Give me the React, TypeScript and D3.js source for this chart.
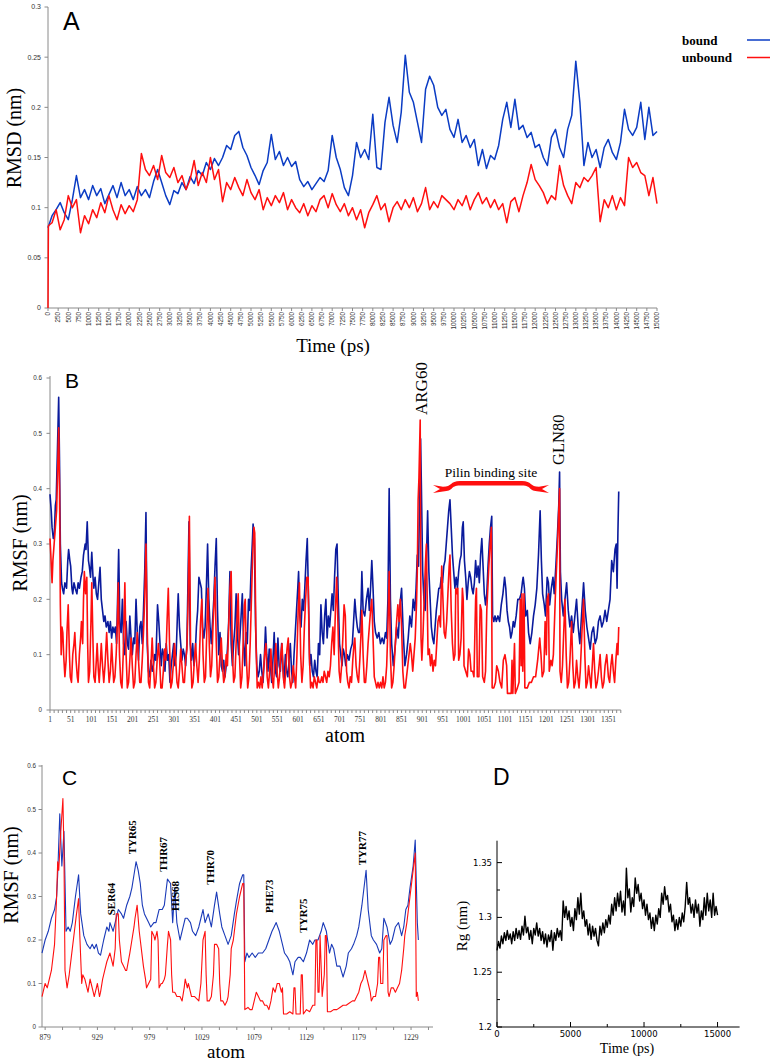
import React from 'react';
import * as d3 from 'd3';

// ---------- Panel A: RMSD vs time (ps) ----------
const rmsdTime = d3.range(0, 15001, 100);
const rmsdBound = [
  0.080,0.092,0.098,0.105,0.095,0.088,0.108,0.132,0.110,0.118,
  0.108,0.122,0.112,0.119,0.104,0.113,0.122,0.110,0.125,0.112,
  0.118,0.108,0.121,0.112,0.118,0.110,0.126,0.138,0.125,0.112,
  0.103,0.117,0.114,0.125,0.118,0.131,0.124,0.137,0.132,0.145,
  0.138,0.149,0.142,0.150,0.162,0.158,0.172,0.176,0.160,0.152,
  0.140,0.132,0.123,0.137,0.145,0.173,0.148,0.156,0.142,0.150,
  0.141,0.146,0.128,0.121,0.126,0.118,0.124,0.130,0.126,0.137,
  0.172,0.150,0.138,0.120,0.112,0.132,0.165,0.150,0.158,0.148,
  0.193,0.140,0.138,0.185,0.210,0.182,0.165,0.195,0.252,0.215,
  0.205,0.185,0.165,0.218,0.231,0.222,0.200,0.192,0.198,0.178,
  0.170,0.188,0.165,0.172,0.160,0.168,0.142,0.158,0.139,0.152,
  0.148,0.162,0.188,0.205,0.180,0.208,0.178,0.182,0.170,0.175,
  0.160,0.163,0.150,0.142,0.170,0.178,0.160,0.150,0.178,0.192,
  0.246,0.205,0.142,0.165,0.150,0.158,0.140,0.160,0.168,0.155,
  0.148,0.165,0.198,0.178,0.172,0.180,0.205,0.168,0.200,0.172,
  0.176,
];
// unbound starts from 0 at t = 0 and jumps within the first frame
const rmsdUnboundTime = [0, 10].concat(d3.range(100, 15001, 100));
const rmsdUnbound = [
  0.000,0.082,
  0.085,0.098,0.078,0.088,0.112,0.100,0.108,0.075,0.092,
  0.084,0.098,0.090,0.105,0.095,0.112,0.098,0.088,0.103,0.094,
  0.102,0.096,0.108,0.154,0.138,0.132,0.142,0.128,0.152,0.135,
  0.130,0.140,0.125,0.132,0.118,0.128,0.147,0.122,0.135,0.125,
  0.150,0.128,0.138,0.106,0.125,0.118,0.130,0.120,0.112,0.128,
  0.115,0.108,0.118,0.098,0.110,0.102,0.112,0.105,0.115,0.098,
  0.108,0.100,0.095,0.104,0.092,0.102,0.096,0.108,0.112,0.100,
  0.114,0.103,0.096,0.104,0.092,0.100,0.088,0.098,0.080,0.095,
  0.103,0.112,0.098,0.104,0.086,0.100,0.106,0.098,0.108,0.100,
  0.110,0.096,0.104,0.120,0.098,0.106,0.100,0.112,0.108,0.104,
  0.098,0.108,0.102,0.112,0.098,0.108,0.115,0.104,0.110,0.100,
  0.108,0.098,0.104,0.085,0.106,0.110,0.096,0.112,0.125,0.143,
  0.128,0.122,0.115,0.104,0.112,0.108,0.142,0.122,0.112,0.104,
  0.125,0.120,0.130,0.126,0.132,0.140,0.086,0.108,0.100,0.112,
  0.098,0.110,0.102,0.150,0.140,0.145,0.135,0.132,0.112,0.130,
  0.104,
];
const rmsdYTicks = [0, 0.05, 0.1, 0.15, 0.2, 0.25, 0.3];
const rmsdXTicks = d3.range(0, 15001, 250);

// ---------- Panel B: RMSF per atom ----------
const rmsfBound: [number, number][] = [
  [1,0.39],[4,0.36],[6,0.33],[9,0.31],[11,0.31],[14,0.37],[16,0.38],[19,0.47],[22,0.565],[24,0.45],
  [26,0.30],[29,0.23],[31,0.22],[34,0.21],[37,0.23],[41,0.22],[44,0.27],[46,0.29],[49,0.27],[51,0.26],
  [54,0.22],[56,0.21],[59,0.23],[62,0.22],[66,0.21],[69,0.23],[72,0.22],[76,0.24],[79,0.25],[82,0.28],
  [86,0.30],[88,0.29],[91,0.34],[94,0.27],[96,0.26],[99,0.24],[102,0.285],[105,0.24],[107,0.22],[110,0.24],
  [113,0.21],[116,0.20],[119,0.23],[122,0.258],[125,0.20],[128,0.18],[131,0.16],[134,0.17],[137,0.15],[141,0.16],
  [144,0.14],[147,0.16],[150,0.13],[153,0.15],[156,0.14],[159,0.15],[162,0.12],[165,0.22],[167,0.29],[170,0.15],
  [173,0.14],[176,0.20],[179,0.12],[182,0.10],[185,0.16],[188,0.12],[191,0.11],[194,0.17],[197,0.13],[200,0.10],
  [203,0.13],[206,0.12],[209,0.20],[212,0.14],[215,0.09],[218,0.15],[221,0.16],[224,0.12],[227,0.18],[230,0.25],
  [233,0.357],[236,0.12],[239,0.07],[242,0.06],[245,0.09],[248,0.07],[251,0.08],[254,0.10],[257,0.09],[261,0.19],
  [264,0.16],[267,0.12],[270,0.08],[273,0.11],[276,0.10],[279,0.07],[282,0.12],[285,0.09],[288,0.10],[291,0.05],
  [294,0.08],[297,0.10],[300,0.12],[303,0.08],[306,0.10],[309,0.17],[311,0.21],[314,0.15],[317,0.12],[320,0.09],
  [323,0.11],[326,0.10],[329,0.08],[332,0.12],[335,0.25],[337,0.34],[340,0.12],[343,0.09],[346,0.12],[349,0.08],
  [352,0.10],[355,0.15],[358,0.18],[361,0.24],[364,0.23],[367,0.22],[370,0.15],[373,0.13],[376,0.15],[379,0.22],
  [382,0.30],[385,0.20],[388,0.15],[391,0.12],[394,0.16],[397,0.20],[400,0.26],[403,0.31],[406,0.18],[409,0.10],
  [412,0.14],[415,0.08],[418,0.07],[421,0.09],[424,0.06],[427,0.08],[430,0.11],[433,0.16],[436,0.25],[439,0.12],
  [442,0.08],[445,0.12],[448,0.15],[451,0.21],[454,0.14],[457,0.10],[460,0.13],[463,0.17],[466,0.21],[469,0.12],
  [472,0.08],[475,0.14],[478,0.12],[481,0.20],[484,0.18],[487,0.25],[490,0.30],[492,0.336],[495,0.31],[498,0.15],
  [501,0.08],[504,0.06],[507,0.07],[510,0.10],[513,0.07],[516,0.05],[519,0.09],[522,0.15],[525,0.10],[528,0.07],
  [531,0.11],[534,0.08],[537,0.05],[540,0.09],[543,0.14],[546,0.07],[549,0.06],[552,0.13],[555,0.08],[558,0.07],
  [561,0.12],[564,0.08],[567,0.05],[570,0.10],[573,0.07],[576,0.06],[579,0.09],[582,0.12],[585,0.07],[588,0.05],
  [591,0.10],[594,0.14],[597,0.18],[600,0.22],[602,0.25],[605,0.17],[608,0.15],[611,0.20],[614,0.18],[617,0.22],
  [620,0.27],[623,0.31],[626,0.20],[629,0.08],[632,0.10],[635,0.07],[638,0.06],[641,0.09],[644,0.07],[647,0.06],
  [650,0.12],[653,0.10],[656,0.19],[659,0.14],[662,0.12],[665,0.17],[668,0.20],[671,0.13],[674,0.17],[677,0.15],
  [680,0.18],[683,0.21],[686,0.18],[689,0.24],[692,0.29],[695,0.30],[698,0.20],[701,0.12],[704,0.10],[707,0.08],
  [710,0.11],[713,0.10],[716,0.08],[720,0.10],[724,0.09],[728,0.11],[732,0.12],[735,0.16],[738,0.20],[741,0.17],
  [744,0.15],[747,0.14],[750,0.14],[753,0.19],[755,0.25],[758,0.18],[762,0.17],[766,0.20],[770,0.22],[773,0.18],
  [776,0.22],[779,0.27],[782,0.22],[785,0.16],[788,0.14],[792,0.13],[796,0.14],[800,0.12],[804,0.13],[808,0.12],
  [812,0.14],[815,0.13],[818,0.20],[821,0.40],[824,0.20],[827,0.12],[831,0.08],[835,0.11],[839,0.15],[843,0.13],
  [847,0.19],[851,0.22],[855,0.14],[859,0.08],[863,0.10],[867,0.13],[871,0.17],[875,0.15],[879,0.20],[883,0.18],
  [886,0.22],[889,0.28],[892,0.26],[895,0.40],[897,0.49],[899,0.40],[902,0.25],[905,0.20],[908,0.18],[911,0.27],
  [914,0.36],[917,0.25],[920,0.20],[923,0.15],[926,0.13],[929,0.12],[932,0.15],[935,0.18],[938,0.20],[941,0.22],
  [944,0.22],[947,0.24],[950,0.23],[953,0.26],[956,0.27],[959,0.30],[962,0.33],[965,0.36],[968,0.38],[971,0.33],
  [974,0.28],[977,0.25],[980,0.22],[983,0.24],[986,0.22],[989,0.25],[992,0.27],[995,0.28],[998,0.33],[1000,0.34],
  [1003,0.27],[1006,0.24],[1009,0.20],[1012,0.23],[1015,0.25],[1018,0.24],[1021,0.22],[1024,0.21],[1027,0.23],[1030,0.27],
  [1033,0.24],[1036,0.26],[1039,0.23],[1042,0.28],[1045,0.31],[1048,0.26],[1051,0.21],[1054,0.19],[1057,0.21],[1060,0.26],
  [1063,0.30],[1066,0.33],[1069,0.35],[1071,0.17],[1074,0.16],[1077,0.17],[1080,0.16],[1084,0.17],[1088,0.16],[1092,0.19],
  [1096,0.21],[1100,0.24],[1103,0.22],[1106,0.18],[1109,0.16],[1112,0.15],[1115,0.13],[1118,0.14],[1121,0.16],[1124,0.15],
  [1128,0.17],[1132,0.20],[1136,0.20],[1140,0.21],[1143,0.23],[1145,0.24],[1148,0.22],[1151,0.17],[1155,0.18],[1158,0.14],
  [1162,0.12],[1166,0.14],[1170,0.17],[1174,0.19],[1178,0.22],[1182,0.28],[1186,0.36],[1189,0.27],[1192,0.21],[1196,0.19],
  [1199,0.17],[1203,0.24],[1206,0.23],[1209,0.19],[1213,0.22],[1217,0.24],[1220,0.21],[1224,0.26],[1228,0.32],[1231,0.37],
  [1233,0.43],[1235,0.25],[1238,0.20],[1242,0.17],[1246,0.20],[1250,0.23],[1254,0.18],[1258,0.15],[1262,0.17],[1266,0.14],
  [1270,0.17],[1274,0.20],[1278,0.15],[1282,0.12],[1286,0.17],[1291,0.23],[1295,0.18],[1299,0.15],[1303,0.13],[1307,0.11],
  [1311,0.14],[1315,0.15],[1319,0.12],[1323,0.13],[1327,0.16],[1331,0.17],[1335,0.15],[1339,0.16],[1343,0.18],[1347,0.16],
  [1351,0.18],[1355,0.20],[1359,0.27],[1363,0.25],[1367,0.29],[1370,0.30],[1372,0.22],[1374,0.32],[1376,0.395],
];
const rmsfUnbound: [number, number][] = [
  [1,0.31],[3,0.28],[6,0.23],[8,0.27],[11,0.30],[14,0.33],[17,0.36],[20,0.45],[22,0.51],[24,0.40],
  [26,0.19],[28,0.10],[30,0.15],[32,0.14],[34,0.10],[37,0.06],[40,0.09],[42,0.14],[45,0.19],[48,0.10],
  [50,0.06],[53,0.05],[56,0.10],[59,0.12],[61,0.14],[64,0.09],[67,0.06],[69,0.05],[72,0.10],[75,0.13],
  [77,0.16],[80,0.12],[82,0.20],[84,0.25],[87,0.21],[90,0.24],[92,0.12],[94,0.05],[97,0.07],[100,0.16],
  [102,0.23],[105,0.12],[107,0.06],[110,0.05],[113,0.09],[115,0.12],[118,0.07],[120,0.05],[123,0.09],[125,0.12],
  [128,0.08],[131,0.05],[134,0.08],[136,0.11],[138,0.14],[141,0.09],[144,0.05],[147,0.07],[150,0.12],[152,0.09],
  [155,0.05],[158,0.06],[161,0.10],[164,0.16],[166,0.23],[169,0.10],[172,0.05],[175,0.04],[178,0.10],[182,0.23],
  [185,0.10],[188,0.04],[191,0.05],[194,0.09],[197,0.13],[200,0.08],[203,0.04],[206,0.05],[209,0.10],[212,0.14],
  [215,0.09],[218,0.05],[221,0.05],[224,0.09],[227,0.14],[230,0.20],[233,0.30],[236,0.15],[239,0.05],[242,0.04],
  [245,0.08],[248,0.13],[251,0.08],[254,0.04],[257,0.05],[260,0.09],[263,0.12],[266,0.09],[269,0.04],[272,0.04],
  [275,0.07],[278,0.11],[281,0.09],[284,0.16],[287,0.22],[290,0.12],[293,0.04],[296,0.05],[299,0.08],[302,0.12],
  [305,0.09],[308,0.05],[311,0.04],[314,0.07],[317,0.11],[320,0.08],[323,0.05],[326,0.05],[329,0.09],[332,0.11],
  [335,0.20],[338,0.35],[341,0.10],[344,0.04],[347,0.05],[350,0.09],[353,0.12],[356,0.08],[359,0.05],[362,0.09],
  [365,0.16],[368,0.20],[371,0.10],[374,0.05],[377,0.06],[380,0.14],[383,0.22],[386,0.12],[389,0.06],[392,0.08],
  [395,0.15],[398,0.20],[400,0.24],[403,0.12],[406,0.05],[409,0.06],[412,0.10],[415,0.13],[418,0.08],[421,0.05],
  [424,0.06],[427,0.10],[430,0.08],[433,0.15],[436,0.22],[439,0.25],[442,0.10],[445,0.05],[448,0.06],[451,0.12],
  [454,0.18],[456,0.21],[459,0.10],[462,0.04],[465,0.06],[468,0.12],[471,0.19],[473,0.20],[476,0.09],[479,0.04],
  [482,0.06],[485,0.12],[488,0.20],[491,0.28],[494,0.33],[496,0.32],[499,0.12],[502,0.04],[505,0.05],[508,0.04],
  [511,0.06],[514,0.04],[517,0.07],[520,0.10],[523,0.12],[526,0.06],[529,0.04],[532,0.07],[535,0.11],[538,0.06],
  [541,0.04],[544,0.08],[547,0.12],[550,0.07],[553,0.04],[556,0.06],[559,0.10],[562,0.12],[565,0.06],[568,0.04],
  [571,0.07],[574,0.11],[577,0.13],[580,0.06],[583,0.04],[586,0.05],[589,0.08],[592,0.06],[595,0.04],[598,0.10],
  [601,0.18],[604,0.23],[607,0.10],[610,0.05],[613,0.08],[616,0.15],[619,0.20],[622,0.24],[625,0.24],[628,0.10],
  [631,0.04],[634,0.05],[637,0.04],[640,0.06],[643,0.05],[646,0.04],[649,0.06],[652,0.05],[655,0.05],[658,0.06],
  [661,0.05],[664,0.07],[667,0.06],[670,0.05],[673,0.07],[676,0.06],[679,0.08],[682,0.12],[685,0.15],[688,0.10],
  [691,0.18],[694,0.24],[697,0.16],[700,0.07],[703,0.05],[706,0.08],[709,0.13],[712,0.19],[715,0.17],[718,0.07],
  [721,0.05],[724,0.04],[727,0.06],[730,0.05],[733,0.09],[736,0.12],[738,0.13],[741,0.08],[744,0.06],[747,0.05],
  [750,0.09],[753,0.14],[755,0.18],[758,0.10],[761,0.05],[764,0.05],[767,0.08],[770,0.12],[773,0.15],[776,0.18],
  [779,0.20],[782,0.13],[785,0.06],[788,0.05],[791,0.04],[794,0.05],[797,0.04],[800,0.05],[803,0.04],[806,0.06],
  [809,0.04],[812,0.05],[815,0.08],[818,0.15],[821,0.25],[824,0.10],[827,0.04],[830,0.05],[833,0.08],[836,0.12],
  [839,0.16],[842,0.19],[845,0.16],[848,0.20],[851,0.15],[854,0.07],[857,0.04],[860,0.04],[863,0.06],[866,0.08],
  [869,0.10],[872,0.12],[875,0.10],[878,0.07],[881,0.10],[884,0.13],[887,0.19],[889,0.25],[891,0.38],[893,0.42],
  [896,0.524],[898,0.13],[900,0.09],[903,0.14],[906,0.21],[909,0.27],[911,0.30],[913,0.20],[915,0.10],[918,0.11],
  [921,0.08],[924,0.10],[927,0.07],[930,0.09],[933,0.08],[936,0.12],[939,0.16],[942,0.17],[945,0.15],[948,0.26],
  [951,0.20],[954,0.14],[957,0.13],[960,0.16],[963,0.21],[966,0.26],[968,0.28],[971,0.18],[974,0.12],[977,0.09],
  [980,0.10],[982,0.22],[985,0.21],[987,0.22],[989,0.09],[992,0.10],[995,0.13],[998,0.22],[1000,0.20],[1002,0.08],
  [1006,0.07],[1010,0.06],[1013,0.11],[1016,0.10],[1019,0.07],[1023,0.07],[1026,0.06],[1030,0.20],[1032,0.22],[1034,0.06],
  [1038,0.06],[1041,0.19],[1044,0.18],[1047,0.06],[1051,0.05],[1054,0.07],[1057,0.18],[1062,0.26],[1065,0.30],[1068,0.33],
  [1070,0.04],[1074,0.04],[1078,0.05],[1081,0.08],[1085,0.07],[1089,0.05],[1093,0.04],[1097,0.09],[1101,0.10],[1105,0.08],
  [1107,0.03],[1112,0.03],[1116,0.03],[1118,0.09],[1120,0.03],[1124,0.12],[1126,0.03],[1131,0.04],[1135,0.05],[1138,0.20],
  [1140,0.08],[1142,0.21],[1144,0.07],[1147,0.21],[1149,0.04],[1155,0.04],[1160,0.05],[1165,0.05],[1170,0.06],[1175,0.06],
  [1180,0.09],[1185,0.13],[1188,0.10],[1191,0.06],[1195,0.07],[1198,0.16],[1201,0.10],[1203,0.20],[1206,0.21],[1208,0.07],
  [1212,0.09],[1215,0.08],[1218,0.10],[1223,0.21],[1228,0.30],[1233,0.40],[1234,0.07],[1237,0.05],[1240,0.08],[1243,0.14],
  [1246,0.20],[1249,0.10],[1252,0.04],[1255,0.05],[1258,0.09],[1262,0.16],[1265,0.08],[1268,0.04],[1271,0.05],[1274,0.09],
  [1277,0.06],[1280,0.04],[1283,0.07],[1287,0.14],[1291,0.20],[1294,0.10],[1297,0.04],[1300,0.05],[1303,0.08],[1306,0.06],
  [1309,0.04],[1312,0.08],[1315,0.12],[1318,0.07],[1321,0.04],[1324,0.05],[1327,0.07],[1331,0.10],[1334,0.06],[1337,0.04],
  [1340,0.05],[1343,0.08],[1347,0.10],[1351,0.06],[1354,0.05],[1357,0.08],[1360,0.10],[1363,0.07],[1366,0.05],[1369,0.09],
  [1372,0.12],[1374,0.10],[1376,0.15],
];
const rmsfYTicks = [0, 0.1, 0.2, 0.3, 0.4, 0.5, 0.6];
const rmsfXLabels = d3.range(1, 1352, 50);
const rmsfXMinor = d3.range(1, 1382, 10);

// ---------- Panel C: RMSF zoom (pilin binding region) ----------
const zoomBound: [number, number][] = [
  [876,0.17],[879,0.20],[882,0.22],[885,0.25],[888,0.27],[890,0.30],[891,0.35],[893,0.49],[895,0.37],[897,0.45],
  [899,0.22],[901,0.23],[903,0.22],[905,0.24],[908,0.30],[911,0.35],[913,0.26],[916,0.21],[919,0.19],[922,0.18],
  [924,0.19],[926,0.18],[928,0.19],[930,0.17],[932,0.165],[935,0.20],[938,0.23],[940,0.22],[941,0.24],[944,0.22],
  [947,0.25],[949,0.27],[952,0.26],[954,0.25],[957,0.28],[960,0.30],[962,0.32],[964,0.35],[966,0.38],[968,0.36],
  [970,0.33],[972,0.28],[974,0.26],[976,0.25],[978,0.24],[980,0.23],[983,0.24],[985,0.24],[988,0.27],[991,0.27],
  [993,0.28],[995,0.32],[996,0.34],[999,0.33],[1001,0.24],[1003,0.32],[1005,0.24],[1008,0.20],[1011,0.23],[1013,0.25],
  [1015,0.25],[1018,0.24],[1020,0.22],[1023,0.21],[1026,0.23],[1028,0.25],[1030,0.27],[1032,0.24],[1035,0.26],[1038,0.23],
  [1041,0.28],[1043,0.31],[1046,0.26],[1048,0.23],[1051,0.21],[1054,0.19],[1057,0.21],[1060,0.26],[1062,0.29],[1065,0.33],
  [1068,0.35],[1069,0.35],[1070,0.15],[1072,0.17],[1074,0.16],[1077,0.17],[1080,0.16],[1083,0.17],[1087,0.17],[1090,0.18],
  [1093,0.20],[1096,0.22],[1098,0.23],[1100,0.24],[1103,0.22],[1106,0.19],[1108,0.17],[1111,0.16],[1113,0.15],[1116,0.12],
  [1118,0.15],[1121,0.16],[1123,0.16],[1126,0.15],[1129,0.17],[1132,0.20],[1135,0.19],[1137,0.20],[1140,0.20],[1143,0.22],
  [1145,0.24],[1148,0.22],[1151,0.17],[1153,0.19],[1155,0.18],[1158,0.14],[1161,0.14],[1164,0.115],[1167,0.14],[1169,0.17],
  [1172,0.18],[1174,0.19],[1177,0.21],[1179,0.23],[1182,0.28],[1184,0.32],[1186,0.36],[1188,0.27],[1191,0.21],[1193,0.20],
  [1196,0.19],[1199,0.17],[1201,0.18],[1203,0.25],[1206,0.23],[1209,0.19],[1211,0.20],[1214,0.23],[1217,0.24],[1220,0.21],
  [1222,0.23],[1224,0.27],[1226,0.28],[1228,0.32],[1231,0.37],[1233,0.43],[1235,0.24],[1236,0.20],
];
const zoomUnbound: [number, number][] = [
  [876,0.07],[879,0.10],[881,0.09],[882,0.10],[885,0.13],[888,0.19],[890,0.30],[891,0.38],[892,0.36],[894,0.45],
  [896,0.525],[897,0.40],[898,0.13],[900,0.09],[902,0.12],[904,0.16],[907,0.22],[909,0.26],[911,0.295],[912,0.22],
  [914,0.10],[915,0.12],[917,0.11],[919,0.09],[920,0.08],[922,0.11],[923,0.10],[925,0.08],[926,0.07],[928,0.09],
  [929,0.10],[931,0.07],[932,0.08],[934,0.11],[936,0.13],[938,0.15],[941,0.17],[943,0.15],[944,0.14],[946,0.18],
  [947,0.26],[949,0.26],[950,0.20],[952,0.15],[954,0.14],[956,0.13],[957,0.13],[960,0.17],[962,0.20],[964,0.23],
  [965,0.25],[967,0.28],[969,0.22],[970,0.20],[972,0.16],[973,0.14],[975,0.11],[976,0.09],[978,0.10],[980,0.11],
  [981,0.22],[983,0.21],[984,0.20],[986,0.22],[987,0.20],[988,0.09],[990,0.10],[991,0.10],[993,0.11],[994,0.12],
  [996,0.19],[997,0.22],[999,0.20],[1000,0.12],[1001,0.08],[1003,0.08],[1005,0.07],[1008,0.07],[1010,0.06],[1012,0.09],
  [1013,0.11],[1015,0.09],[1016,0.10],[1018,0.08],[1019,0.07],[1022,0.07],[1026,0.06],[1028,0.10],[1030,0.20],[1032,0.22],
  [1033,0.12],[1034,0.06],[1036,0.06],[1038,0.07],[1040,0.12],[1041,0.19],[1043,0.19],[1045,0.18],[1046,0.10],[1047,0.06],
  [1049,0.06],[1051,0.05],[1053,0.06],[1054,0.07],[1056,0.12],[1057,0.18],[1059,0.20],[1062,0.26],[1065,0.30],[1068,0.33],
  [1069,0.33],[1070,0.04],[1073,0.045],[1075,0.04],[1077,0.04],[1079,0.06],[1081,0.08],[1083,0.07],[1085,0.06],[1087,0.06],
  [1089,0.05],[1091,0.05],[1093,0.04],[1095,0.06],[1097,0.09],[1099,0.08],[1101,0.10],[1103,0.10],[1105,0.08],[1106,0.09],
  [1107,0.03],[1110,0.03],[1113,0.035],[1116,0.03],[1117,0.09],[1118,0.09],[1119,0.03],[1121,0.03],[1123,0.03],[1124,0.12],
  [1125,0.12],[1126,0.03],[1129,0.04],[1132,0.035],[1135,0.05],[1137,0.05],[1138,0.20],[1139,0.20],[1140,0.08],[1141,0.08],
  [1142,0.21],[1143,0.14],[1144,0.07],[1146,0.12],[1147,0.21],[1148,0.21],[1149,0.035],[1152,0.035],[1155,0.04],[1158,0.04],
  [1161,0.045],[1164,0.05],[1167,0.05],[1170,0.055],[1173,0.06],[1175,0.06],[1177,0.07],[1179,0.08],[1181,0.10],[1183,0.11],
  [1185,0.13],[1187,0.11],[1188,0.10],[1190,0.08],[1191,0.06],[1193,0.07],[1195,0.07],[1197,0.10],[1198,0.16],[1199,0.16],
  [1200,0.10],[1202,0.10],[1203,0.20],[1205,0.21],[1206,0.21],[1207,0.08],[1208,0.07],[1210,0.09],[1212,0.09],[1214,0.08],
  [1216,0.09],[1218,0.10],[1220,0.13],[1222,0.18],[1223,0.21],[1225,0.24],[1228,0.30],[1231,0.36],[1233,0.40],[1234,0.07],
  [1235,0.08],[1236,0.06],
];
const zoomXLabels = [879, 929, 979, 1029, 1079, 1129, 1179, 1229];
const zoomXMinor = d3.range(879, 1250, 50 / 3);
const zoomResidues = [
  { name: 'SER64', atom: 942, top: 0.25 },
  { name: 'TYR65', atom: 962, top: 0.39 },
  { name: 'THR67', atom: 992, top: 0.35 },
  { name: 'HIS68', atom: 1003, top: 0.26 },
  { name: 'THR70', atom: 1037, top: 0.32 },
  { name: 'PHE73', atom: 1093, top: 0.255 },
  { name: 'TYR75', atom: 1126, top: 0.21 },
  { name: 'TYR77', atom: 1182, top: 0.365 },
];

// ---------- Panel D: radius of gyration ----------
const rgTime = d3.range(0, 15001, 100);
const rgValues = [
  1.270,1.278,1.272,1.283,1.276,1.286,1.279,1.288,1.280,1.285,
  1.276,1.287,1.279,1.290,1.281,1.288,1.280,1.292,1.284,1.301,
  1.286,1.291,1.280,1.288,1.276,1.290,1.284,1.295,1.283,1.290,
  1.279,1.287,1.276,1.285,1.273,1.284,1.278,1.288,1.270,1.286,
  1.279,1.290,1.282,1.288,1.279,1.315,1.300,1.310,1.298,1.306,
  1.292,1.300,1.288,1.308,1.298,1.318,1.303,1.322,1.299,1.306,
  1.292,1.298,1.284,1.294,1.280,1.292,1.283,1.290,1.279,1.274,
  1.292,1.284,1.295,1.286,1.298,1.291,1.302,1.294,1.312,1.302,
  1.318,1.306,1.322,1.310,1.324,1.305,1.315,1.302,1.345,1.318,
  1.326,1.305,1.318,1.310,1.336,1.322,1.330,1.315,1.322,1.308,
  1.316,1.302,1.312,1.298,1.304,1.290,1.300,1.288,1.302,1.294,
  1.308,1.300,1.322,1.312,1.328,1.316,1.320,1.305,1.312,1.296,
  1.302,1.288,1.298,1.289,1.300,1.292,1.304,1.296,1.310,1.332,
  1.312,1.318,1.304,1.312,1.300,1.316,1.304,1.312,1.292,1.306,
  1.298,1.318,1.302,1.322,1.306,1.316,1.300,1.322,1.302,1.310,
  1.302,
];
const rgYMajor = [1.2, 1.25, 1.3, 1.35];
const rgYMinor = [1.225, 1.275, 1.325];
const rgXMajor = [0, 5000, 10000, 15000];
const rgXMinor = [2500, 7500, 12500];

const SERIF = "'Liberation Serif', 'Times New Roman', serif";
const SANS = "'Liberation Sans', Arial, sans-serif";
const BLUE_A = '#0b3cc4';
const BLUE_B = '#0a1a9c';
const BLUE_C = '#1a3ab8';
const RED = '#ff0f0f';
const AXIS = '#8a8a8a';

function fmt(v: number) {
  return String(+v.toFixed(3));
}

export default function App() {
  const xA = d3.scaleLinear().domain([0, 15000]).range([48, 657]);
  const yA = d3.scaleLinear().domain([0, 0.3]).range([308, 7]);
  const xB = d3.scaleLinear().domain([1, 1381]).range([50, 620.8]);
  const yB = d3.scaleLinear().domain([0, 0.6]).range([710, 378]);
  const xC = d3.scaleLinear().domain([876, 1250]).range([42, 433]);
  const yC = d3.scaleLinear().domain([0, 0.6]).range([1027, 766]);
  const xD = d3.scaleLinear().domain([0, 16500]).range([497, 739.6]);
  const yD = d3.scaleLinear().domain([1.2, 1.37]).range([1027, 840.7]);

  const lineA = (times: number[], vals: number[]) =>
    d3.line<number>().x((_, i) => xA(times[i])).y((d) => yA(d))(vals) || '';
  const lineB = d3.line<[number, number]>().x((d) => xB(d[0])).y((d) => yB(d[1]));
  const lineC = d3.line<[number, number]>().x((d) => xC(d[0])).y((d) => yC(d[1]));
  const lineD = d3.line<number>().x((_, i) => xD(rgTime[i])).y((d) => yD(d));

  return (
    <svg width={770} height={1062} style={{ position: 'absolute', left: 0, top: 0, background: '#fff' }}
      xmlns="http://www.w3.org/2000/svg">
      <rect x={0} y={0} width={770} height={1062} fill="#fff" />

      {/* ================= Panel A ================= */}
      <g>
        <line x1={48} x2={48} y1={yA(0.3)} y2={yA(0)} stroke={AXIS} strokeWidth={1} />
        <line x1={48} x2={xA(15000)} y1={yA(0)} y2={yA(0)} stroke={AXIS} strokeWidth={1} />
        {rmsdYTicks.map((t) => (
          <g key={'ay' + t}>
            <line x1={44.5} x2={48} y1={yA(t)} y2={yA(t)} stroke={AXIS} />
            <text x={41} y={yA(t)} dy="0.35em" textAnchor="end" fontFamily={SANS} fontSize={7} fill="#333">{fmt(t)}</text>
          </g>
        ))}
        {rmsdXTicks.map((t) => (
          <g key={'ax' + t}>
            <line x1={xA(t)} x2={xA(t)} y1={308} y2={311} stroke={AXIS} />
            <text x={xA(t)} y={312} dy="0.35em" textAnchor="end" fontFamily={SANS} fontSize={6.3} fill="#333"
              transform={`rotate(-90, ${xA(t)}, 312)`}>{t}</text>
          </g>
        ))}
        <path d={lineA(rmsdTime, rmsdBound)} fill="none" stroke={BLUE_A} strokeWidth={1.5} strokeLinejoin="round" />
        <path d={lineA(rmsdUnboundTime, rmsdUnbound)} fill="none" stroke={RED} strokeWidth={1.5} strokeLinejoin="round" />
        <text x={63} y={30} fontFamily={SANS} fontSize={25} fill="#000">A</text>
        <text x={21} y={138} textAnchor="middle" fontFamily={SERIF} fontSize={20} fill="#000"
          transform="rotate(-90, 21, 138)">RMSD (nm)</text>
        <text x={333} y={352} textAnchor="middle" fontFamily={SERIF} fontSize={19} fill="#000">Time (ps)</text>
        <text x={682} y={45} fontFamily={SERIF} fontWeight="bold" fontSize={13} fill="#000">bound</text>
        <text x={682} y={62} fontFamily={SERIF} fontWeight="bold" fontSize={13} fill="#000">unbound</text>
        <line x1={747} x2={775} y1={40} y2={40} stroke={BLUE_A} strokeWidth={1.5} />
        <line x1={747} x2={775} y1={57.5} y2={57.5} stroke={RED} strokeWidth={1.5} />
      </g>

      {/* ================= Panel B ================= */}
      <g>
        <line x1={50} x2={50} y1={376} y2={710} stroke={AXIS} />
        <line x1={50} x2={620.8} y1={710} y2={710} stroke={AXIS} />
        {rmsfYTicks.map((t) => (
          <g key={'by' + t}>
            <line x1={46.5} x2={50} y1={yB(t)} y2={yB(t)} stroke={AXIS} />
            <text x={42} y={yB(t)} dy="0.35em" textAnchor="end" fontFamily={SANS} fontSize={6.3} fill="#333">{fmt(t)}</text>
          </g>
        ))}
        {rmsfXMinor.map((t) => (
          <line key={'bm' + t} x1={xB(t)} x2={xB(t)} y1={710} y2={713} stroke={AXIS} />
        ))}
        {rmsfXLabels.map((t) => (
          <text key={'bx' + t} x={xB(t)} y={722} textAnchor="middle" fontFamily={SERIF} fontSize={7.5} fill="#333">{t}</text>
        ))}
        <path d={lineB(rmsfBound) || ''} fill="none" stroke={BLUE_B} strokeWidth={1.6} strokeLinejoin="round" />
        <path d={lineB(rmsfUnbound) || ''} fill="none" stroke={RED} strokeWidth={1.6} strokeLinejoin="round" />
        <text x={65} y={388} fontFamily={SANS} fontSize={21} fill="#000">B</text>
        <text x={27} y={543} textAnchor="middle" fontFamily={SERIF} fontSize={20} fill="#000"
          transform="rotate(-90, 27, 543)">RMSF (nm)</text>
        <text x={345} y={742} textAnchor="middle" fontFamily={SERIF} fontSize={20} fill="#000">atom</text>
        <text x={427} y={415} fontFamily={SERIF} fontSize={17} fill="#000"
          transform="rotate(-90, 427, 415)">ARG60</text>
        <text x={564} y={465} fontFamily={SERIF} fontSize={16.5} fill="#000"
          transform="rotate(-90, 564, 465)">GLN80</text>
        <text x={491} y={477} textAnchor="middle" fontFamily={SERIF} fontSize={13.5} fill="#000">Pilin binding site</text>
        <path d="M433,485 L443,486.8 C452,486.8 450,481 460,481 L522,481 C532,481 530,486.8 539,486.8 L549,485 L542,489 L549,493 L539,491.4 C528,491.4 532,485.6 522,485.6 L460,485.6 C450,485.6 454,491.4 443,491.4 L433,493 L440,489 Z"
          fill={RED} />
      </g>

      {/* ================= Panel C ================= */}
      <g>
        <line x1={42} x2={42} y1={765} y2={1027} stroke={AXIS} />
        <line x1={42} x2={433} y1={1027} y2={1027} stroke={AXIS} />
        {rmsfYTicks.map((t) => (
          <g key={'cy' + t}>
            <line x1={38.5} x2={42} y1={yC(t)} y2={yC(t)} stroke={AXIS} />
            <text x={36} y={yC(t)} dy="0.35em" textAnchor="end" fontFamily={SANS} fontSize={6.3} fill="#333">{fmt(t)}</text>
          </g>
        ))}
        {zoomXMinor.map((t) => (
          <line key={'cm' + t} x1={xC(t)} x2={xC(t)} y1={1027} y2={1030} stroke={AXIS} />
        ))}
        {zoomXLabels.map((t) => (
          <text key={'cx' + t} x={xC(t)} y={1040} textAnchor="middle" fontFamily={SERIF} fontSize={7.5} fill="#333">{t}</text>
        ))}
        <path d={lineC(zoomBound) || ''} fill="none" stroke={BLUE_C} strokeWidth={1.1} strokeLinejoin="round" />
        <path d={lineC(zoomUnbound) || ''} fill="none" stroke={RED} strokeWidth={1.1} strokeLinejoin="round" />
        {zoomResidues.map((r) => {
          const x = xC(r.atom) + 4;
          const y = yC(r.top) - 3;
          return (
            <text key={r.name} x={x} y={y} fontFamily={SERIF} fontWeight="bold" fontSize={11} fill="#000"
              transform={`rotate(-90, ${x}, ${y})`}>{r.name}</text>
          );
        })}
        <text x={62} y={785} fontFamily={SANS} fontSize={21} fill="#000">C</text>
        <text x={18} y={875} textAnchor="middle" fontFamily={SERIF} fontSize={20} fill="#000"
          transform="rotate(-90, 18, 875)">RMSF (nm)</text>
        <text x={226} y={1058} textAnchor="middle" fontFamily={SERIF} fontSize={19} fill="#000">atom</text>
      </g>

      {/* ================= Panel D ================= */}
      <g>
        <line x1={xD(0)} x2={xD(0)} y1={yD(1.37)} y2={yD(1.2)} stroke="#000" strokeWidth={1} />
        <line x1={xD(0)} x2={xD(16500)} y1={yD(1.2)} y2={yD(1.2)} stroke="#000" strokeWidth={1} />
        {rgYMajor.map((t) => (
          <g key={'dy' + t}>
            <line x1={xD(0)} x2={xD(0) + 5} y1={yD(t)} y2={yD(t)} stroke="#000" />
            <text x={492} y={yD(t)} dy="0.35em" textAnchor="end" fontFamily="'DejaVu Sans', sans-serif" fontSize={8.5} fill="#000">{fmt(t)}</text>
          </g>
        ))}
        {rgYMinor.map((t) => (
          <line key={'dym' + t} x1={xD(0)} x2={xD(0) + 3} y1={yD(t)} y2={yD(t)} stroke="#000" />
        ))}
        {rgXMajor.map((t) => (
          <g key={'dx' + t}>
            <line x1={xD(t)} x2={xD(t)} y1={yD(1.2)} y2={yD(1.2) - 5} stroke="#000" />
            <text x={xD(t)} y={1037} textAnchor="middle" fontFamily="'DejaVu Sans', sans-serif" fontSize={8.5} fill="#000">{t}</text>
          </g>
        ))}
        {rgXMinor.map((t) => (
          <line key={'dxm' + t} x1={xD(t)} x2={xD(t)} y1={yD(1.2)} y2={yD(1.2) - 3} stroke="#000" />
        ))}
        <path d={lineD(rgValues) || ''} fill="none" stroke="#000" strokeWidth={1.4} strokeLinejoin="round" />
        <text x={493} y={785} fontFamily={SANS} fontSize={23} fill="#000">D</text>
        <text x={467} y={926} textAnchor="middle" fontFamily={SERIF} fontSize={15} fill="#000"
          transform="rotate(-90, 467, 926)">Rg (nm)</text>
        <text x={627} y={1053} textAnchor="middle" fontFamily={SERIF} fontSize={14} fill="#000">Time (ps)</text>
      </g>
    </svg>
  );
}
